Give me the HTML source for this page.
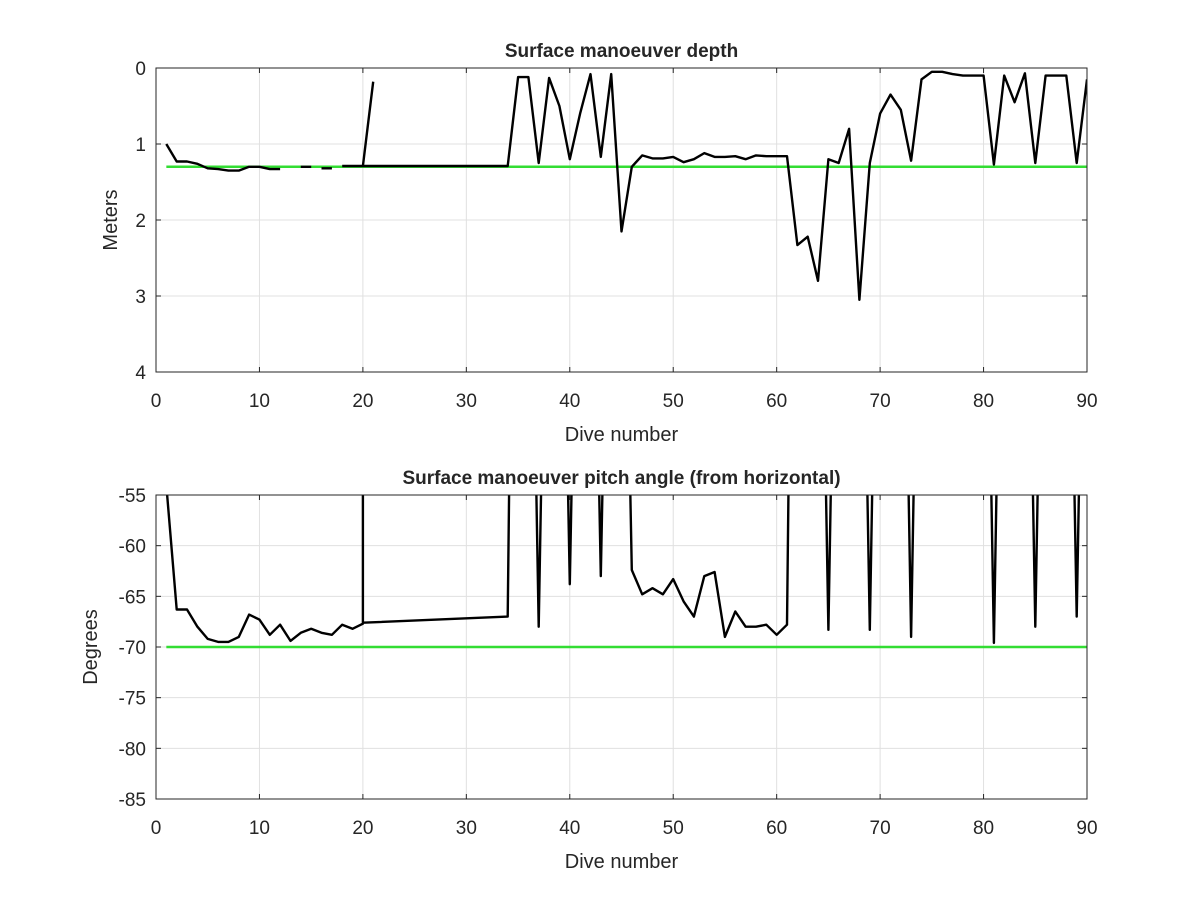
<!DOCTYPE html>
<html><head><meta charset="utf-8"><style>
body{margin:0;background:#fff;}
svg text{font-family:"Liberation Sans",Arial,sans-serif;fill:#262626;}
</style></head><body>
<svg id="chart" width="1200" height="900" viewBox="0 0 1200 900" xmlns="http://www.w3.org/2000/svg"></svg>
<script>
// Depth panel data (null = gap)
const depthDives = [1,2,3,4,5,6,7,8,9,10,11,12,null,14,15,null,16,17,null,18,19,20,21,null,20,22,24,26,28,30,32,34,35,36,37,38,39,40,41,42,43,44,45,46,47,48,49,50,51,52,53,54,55,56,57,58,59,60,61,62,63,64,65,66,67,68,69,70,71,72,73,74,75,76,77,78,79,80,81,82,83,84,85,86,87,88,89,90];
const depthValues = [1.0,1.23,1.23,1.26,1.32,1.33,1.35,1.35,1.3,1.3,1.33,1.33,null,1.3,1.3,null,1.32,1.32,null,1.29,1.29,1.29,0.18,null,1.29,1.29,1.29,1.29,1.29,1.29,1.29,1.29,0.12,0.12,1.25,0.13,0.5,1.2,0.6,0.08,1.17,0.08,2.15,1.3,1.15,1.19,1.19,1.17,1.24,1.2,1.12,1.17,1.17,1.16,1.2,1.15,1.16,1.16,1.16,2.33,2.22,2.8,1.2,1.25,0.8,3.05,1.25,0.6,0.35,0.55,1.22,0.15,0.05,0.05,0.08,0.1,0.1,0.1,1.27,0.1,0.45,0.07,1.25,0.1,0.1,0.1,1.25,0.15];
const depthTarget = 1.3;
// Pitch panel data
const pitchDives = [1,2,3,4,5,6,7,8,9,10,11,12,13,14,15,16,17,18,19,20,20,null,20,34,34.3,35,36,37,38,39,40,41,42,43,44,45,46,47,48,49,50,51,52,53,54,55,56,57,58,59,60,61,61.3,62,63,64,65,66,67,68,69,70,71,72,73,74,75,76,77,78,79,80,81,82,83,84,85,86,87,88,89,90];
const pitchValues = [-54,-66.3,-66.3,-68,-69.2,-69.5,-69.5,-69,-66.8,-67.3,-68.8,-67.8,-69.4,-68.6,-68.2,-68.6,-68.8,-67.8,-68.2,-67.7,-40,null,-67.6,-67,-40,-10,-10,-68,-10,-10,-63.8,-10,-10,-63,-10,-10,-62.4,-64.8,-64.2,-64.8,-63.3,-65.5,-67,-63,-62.6,-69,-66.5,-68,-68,-67.8,-68.8,-67.8,-40,-10,-10,-10,-68.3,-10,-10,-10,-68.3,-10,-10,-10,-69,-10,-10,-10,-10,-10,-10,-10,-69.6,-10,-10,-10,-68,-10,-10,-10,-67,-10];
const pitchTarget = -70;
const xTicks = [0,10,20,30,40,50,60,70,80,90];
const depthTicks = [0,1,2,3,4];
const pitchTicks = [-55,-60,-65,-70,-75,-80,-85];

const svg = document.getElementById('chart');
const NS = 'http://www.w3.org/2000/svg';
function mk(tag, attrs, parent){const e=document.createElementNS(NS,tag);for(const k in attrs)e.setAttribute(k,attrs[k]);(parent||svg).appendChild(e);return e;}

function panel(cfg){
  const L=156,R=1087,T=cfg.top,B=cfg.top+304;
  const sx=v=>L+(v-0)/(90-0)*(R-L);
  const sy=v=>T+(v-cfg.y0)/(cfg.y1-cfg.y0)*(B-T);
  const g=mk('g',{});
  
  
  mk('rect',{x:L,y:T,width:R-L,height:B-T,fill:'#fff'},g);
  xTicks.forEach(t=>{
    const l=mk('line',{x1:sx(t),x2:sx(t),y1:T,y2:B,stroke:'#e0e0e0','stroke-width':1},g);
    
    
    const tx=mk('text',{x:sx(t),y:B+35,'text-anchor':'middle','font-size':19},g);
    
    
    tx.textContent=t;
    mk('line',{x1:sx(t),x2:sx(t),y1:B,y2:B-5,stroke:'#262626'},g);
    mk('line',{x1:sx(t),x2:sx(t),y1:T,y2:T+5,stroke:'#262626'},g);
  });
  cfg.ticks.forEach(t=>{
    const l=mk('line',{x1:L,x2:R,y1:sy(t),y2:sy(t),stroke:'#e0e0e0','stroke-width':1},g);
    
    
    const tx=mk('text',{x:L-10,y:sy(t)+7,'text-anchor':'end','font-size':19},g);
    
    
    tx.textContent=t;
    mk('line',{x1:L,x2:L+5,y1:sy(t),y2:sy(t),stroke:'#262626'},g);
    mk('line',{x1:R,x2:R-5,y1:sy(t),y2:sy(t),stroke:'#262626'},g);
  });
  const clipId='clip'+cfg.name;
  const cp=mk('clipPath',{id:clipId},g);
  mk('rect',{x:L,y:T,width:R-L,height:B-T},cp);
  const tl=mk('line',{x1:sx(1),x2:sx(90),y1:sy(cfg.target),y2:sy(cfg.target),stroke:'#33dd33','stroke-width':2.5,'clip-path':'url(#'+clipId+')'},g);
  
  
  let d='',pen=false;
  cfg.xs.forEach((x,i)=>{const y=cfg.ys[i];if(x===null||y===null){pen=false;return;}d+=(pen?'L':'M')+sx(x).toFixed(1)+' '+sy(y).toFixed(1);pen=true;});
  const p=mk('path',{d:d,fill:'none',stroke:'#000','stroke-width':2.4,'stroke-linejoin':'round','clip-path':'url(#'+clipId+')'},g);
  
  
  mk('rect',{x:L,y:T,width:R-L,height:B-T,fill:'none',stroke:'#262626','stroke-width':1},g);
  const ti=mk('text',{x:(L+R)/2,y:T-11,'text-anchor':'middle','font-size':19,'font-weight':'bold'},g);
  
  
  ti.textContent=cfg.title;
  const xl=mk('text',{x:(L+R)/2,y:B+69,'text-anchor':'middle','font-size':20},g);
  
  
  xl.textContent='Dive number';
  const yl=mk('text',{x:0,y:0,'text-anchor':'middle','font-size':20,transform:'translate('+cfg.ylx+','+(T+B)/2+') rotate(-90)'},g);
  
  
  yl.textContent=cfg.ylabel;
}
panel({name:'depth',top:68,y0:0,y1:4,ticks:depthTicks,xs:depthDives,ys:depthValues,target:depthTarget,title:'Surface manoeuver depth',ylabel:'Meters',ylx:117});
panel({name:'pitch',top:495,y0:-55,y1:-85,ticks:pitchTicks,xs:pitchDives,ys:pitchValues,target:pitchTarget,title:'Surface manoeuver pitch angle (from horizontal)',ylabel:'Degrees',ylx:97});
</script>
</body></html>
